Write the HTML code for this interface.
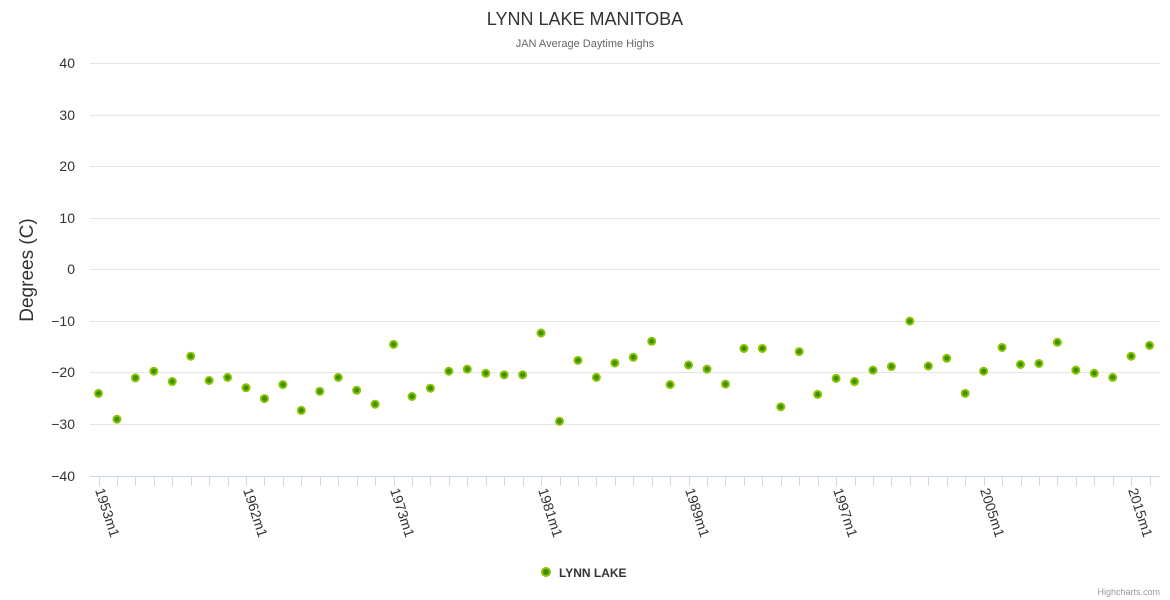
<!DOCTYPE html>
<html><head><meta charset="utf-8"><style>
body{margin:0;background:#fff;}
svg{display:block;font-family:"Liberation Sans",sans-serif;}
</style></head><body>
<svg width="1170" height="600" xmlns="http://www.w3.org/2000/svg">
<text x="585" y="25" text-anchor="middle" font-size="18" fill="#333">LYNN LAKE MANITOBA</text>
<text x="585" y="47" text-anchor="middle" font-size="11" fill="#666">JAN Average Daytime Highs</text>
<g stroke="#e6e6e6" stroke-width="1">
<line x1="90" x2="1160" y1="63.5" y2="63.5"/><line x1="90" x2="1160" y1="115.5" y2="115.5"/>
<line x1="90" x2="1160" y1="166.5" y2="166.5"/><line x1="90" x2="1160" y1="218.5" y2="218.5"/>
<line x1="90" x2="1160" y1="269.5" y2="269.5"/><line x1="90" x2="1160" y1="321.5" y2="321.5"/>
<line x1="90" x2="1160" y1="372.5" y2="372.5"/><line x1="90" x2="1160" y1="424.5" y2="424.5"/>
</g>
<line x1="90" x2="1160" y1="476.5" y2="476.5" stroke="#ccd6eb"/>
<g font-size="14" fill="#333" text-anchor="end">
<text x="75" y="68">40</text><text x="75" y="120">30</text><text x="75" y="171">20</text><text x="75" y="223">10</text>
<text x="75" y="274">0</text><text x="75" y="326">−10</text><text x="75" y="377">−20</text><text x="75" y="429">−30</text><text x="75" y="481">−40</text>
</g>
<text transform="translate(33,270) rotate(-90)" text-anchor="middle" font-size="19" fill="#333">Degrees (C)</text>
<g id="ticks" stroke="#ccd6eb"></g>
<g font-size="14" fill="#333">
<text transform="translate(95,490) rotate(72)">1953m1</text>
<text transform="translate(243,490) rotate(72)">1962m1</text>
<text transform="translate(390,490) rotate(72)">1973m1</text>
<text transform="translate(538,490) rotate(72)">1981m1</text>
<text transform="translate(685,490) rotate(72)">1989m1</text>
<text transform="translate(833,490) rotate(72)">1997m1</text>
<text transform="translate(980,490) rotate(72)">2005m1</text>
<text transform="translate(1128,490) rotate(72)">2015m1</text>
</g>
<g id="pts" fill="#3f8f00" stroke="#88c400" stroke-width="2"></g>
<circle cx="546" cy="572" r="4" fill="#3f8f00" stroke="#88c400" stroke-width="2"/>
<text x="559" y="577" font-size="12" font-weight="bold" fill="#333">LYNN LAKE</text>
<text x="1160" y="595" text-anchor="end" font-size="9" fill="#999">Highcharts.com</text>
</svg>
<script>
var v=[-24,-29,-21,-19.7,-21.7,-16.8,-21.5,-20.9,-22.9,-25,-22.3,-27.3,-23.6,-20.9,-23.4,-26.1,-14.5,-24.6,-23,-19.7,-19.3,-20.1,-20.4,-20.4,-12.3,-29.4,-17.6,-20.9,-18.1,-17,-13.9,-22.3,-18.5,-19.3,-22.2,-15.3,-15.3,-26.6,-15.9,-24.2,-21.1,-21.7,-19.5,-18.8,-10,-18.7,-17.2,-24,-19.7,-15.1,-18.4,-18.2,-14.1,-19.5,-20.1,-20.9,-16.8,-14.7];
var ns="http://www.w3.org/2000/svg",p=document.getElementById("pts"),t=document.getElementById("ticks");
for(var i=0;i<v.length;i++){var x=98.5+i*18.44;
var c=document.createElementNS(ns,"circle");c.setAttribute("cx",x);c.setAttribute("cy",269.5-v[i]*5.1625);c.setAttribute("r",3.5);p.appendChild(c);
var l=document.createElementNS(ns,"line");l.setAttribute("x1",Math.round(x)+0.5);l.setAttribute("x2",Math.round(x)+0.5);l.setAttribute("y1",476);l.setAttribute("y2",486);t.appendChild(l);}
</script>
</body></html>
